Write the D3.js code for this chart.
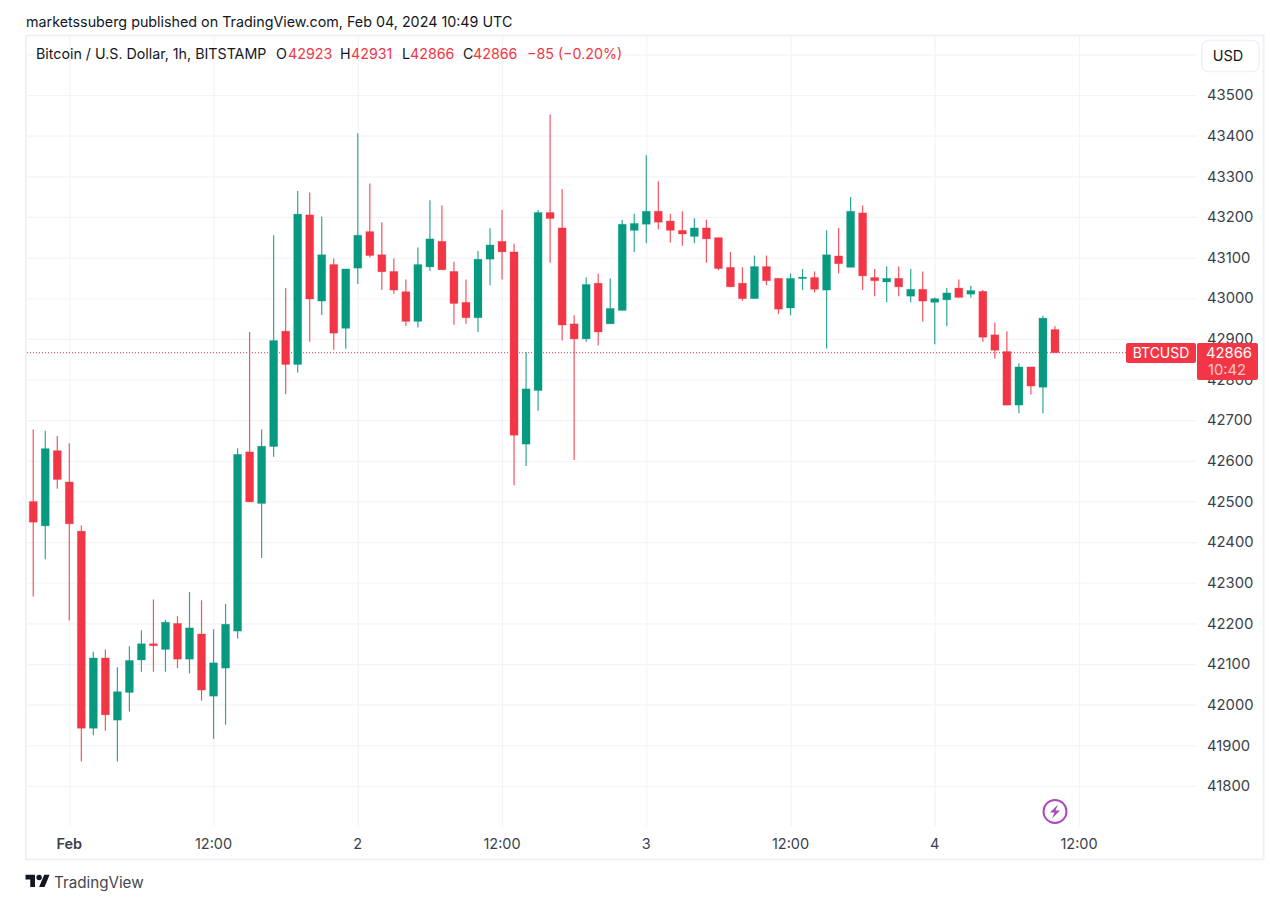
<!DOCTYPE html>
<html>
<head>
<meta charset="utf-8">
<script src="https://cdn.jsdelivr.net/npm/d3@7"></script>
<style>
  html, body { margin: 0; padding: 0; background: #fff; }
  svg { display: block; }
  text { font-family: Inter, "Liberation Sans", sans-serif; }
  .tick text { font-family: Inter, "Liberation Sans", sans-serif; }
</style>
</head>
<body>
<svg id="svg" width="1270" height="898"></svg>
<script>
// hourly candles, first one is Jan 31 21:00 UTC
const firstHour = Date.UTC(2024, 0, 31, 21);

const opens = [42500,42440,42625,42548,42427,41942,42115,41962,42030,42110,42150,42136,42200,42112,42174,42021,42090,42181,42622,42495,42635,42919,42837,43205,42993,43083,42926,43074,43164,43107,43066,43016,42943,43077,43140,43066,42990,42952,43096,43140,43114,42641,42773,43211,43173,42937,42900,43037,42937,42970,43167,43182,43214,43190,43167,43152,43173,43149,43076,43037,42999,43078,43049,42976,43049,43051,43020,43104,43076,43210,43051,43040,43049,43005,43022,42990,42996,43025,43010,43017,42910,42869,42737,42831,42781,42923];
const highs = [42677,42674,42661,42643,42441,42130,42136,42092,42144,42183,42259,42209,42218,42277,42257,42186,42248,42631,42917,42677,43155,43025,43264,43260,43201,43098,43072,43406,43282,43187,43098,43046,43125,43241,43228,43090,43046,43116,43172,43217,43134,42868,43217,43452,43269,42958,43051,43060,43049,43193,43208,43352,43288,43208,43214,43197,43193,43150,43114,43076,43105,43105,43049,43061,43072,43066,43167,43173,43249,43228,43072,43078,43078,43072,43066,43002,43025,43046,43031,43020,42940,42919,42840,42831,42957,42931];
const lows = [42266,42358,42531,42207,41860,41925,41936,41860,41983,42081,42081,42081,42090,42077,42010,41916,41951,42163,42499,42361,42610,42764,42817,42893,42959,42873,42876,43035,43100,43020,43011,42932,42928,43067,43070,42935,42937,42917,43032,43046,42540,42587,42723,43087,42896,42602,42893,42884,42937,42970,43114,43135,43170,43137,43129,43135,43087,43069,43028,42994,42999,43032,42961,42958,43020,43014,42876,43061,43076,43020,43005,42990,43005,42990,42943,42887,42931,43002,43002,42893,42852,42737,42717,42763,42717,42866];
const closes = [42449,42630,42554,42445,41942,42115,41975,42032,42109,42150,42145,42203,42112,42189,42036,42103,42198,42616,42499,42636,42896,42837,43207,42998,43107,42914,43072,43155,43105,43065,43020,42943,43083,43146,43070,42987,42952,43096,43131,43114,42663,42777,43211,43196,42934,42900,43034,42917,42975,43182,43184,43214,43187,43167,43158,43173,43146,43073,43028,42999,43078,43043,42973,43049,43052,43022,43107,43085,43214,43055,43043,43049,43028,43022,42993,42999,43013,43002,43019,42904,42872,42737,42831,42784,42951,42866];

const priceTicks = [43500,43400,43300,43200,43100,43000,42900,42800,42700,42600,42500,42400,42300,42200,42100,42000,41900,41800];
const gridPrices = [43600].concat(priceTicks);

const timeTicks = [
  Date.UTC(2024, 1, 1, 0), Date.UTC(2024, 1, 1, 12),
  Date.UTC(2024, 1, 2, 0), Date.UTC(2024, 1, 2, 12),
  Date.UTC(2024, 1, 3, 0), Date.UTC(2024, 1, 3, 12),
  Date.UTC(2024, 1, 4, 0), Date.UTC(2024, 1, 4, 12)
];
const timeLabels = ["Feb", "12:00", "2", "12:00", "3", "12:00", "4", "12:00"];

const lastPrice = 42866;
const up = "#089981", down = "#f23645";
const gridColor = "#f3f4f8", borderColor = "#eff1f7", textColor = "#131722", axisColor = "#3c3f4a";

const svg = d3.select("svg");

// plot area
const plotLeft = 27, plotRight = 1197, plotTop = 36, plotBottom = 826;

const xScale = d3.scaleUtc()
  .domain([timeTicks[0], timeTicks[7]])
  .range([69.3, 1079]);

const yScale = d3.scaleLinear()
  .domain([41800, 43500])
  .range([786, 95]);

// frame
svg.append("rect")
  .attr("x", 26).attr("y", 35.5)
  .attr("width", 1237.5).attr("height", 824)
  .attr("fill", "#fff")
  .attr("stroke", borderColor)
  .attr("stroke-width", 2);

// horizontal grid
svg.append("g")
  .attr("transform", `translate(${plotLeft},0)`)
  .call(d3.axisRight(yScale).tickValues(gridPrices).tickSize(plotRight - plotLeft).tickFormat(""))
  .call(g => g.select(".domain").remove())
  .call(g => g.selectAll("line").attr("stroke", gridColor).attr("stroke-width", 1.2));

// vertical grid
svg.append("g")
  .attr("transform", `translate(0,${plotBottom})`)
  .call(d3.axisBottom(xScale).tickValues(timeTicks).tickSize(plotTop - plotBottom).tickFormat(""))
  .call(g => g.select(".domain").remove())
  .call(g => g.selectAll("line").attr("stroke", gridColor).attr("stroke-width", 1.2));

// price axis
svg.append("g")
  .attr("transform", "translate(1205,0)")
  .call(d3.axisRight(yScale).tickValues(priceTicks).tickSize(0).tickPadding(2).tickFormat(d3.format("d")))
  .call(g => g.select(".domain").remove())
  .call(g => g.selectAll("text").attr("fill", axisColor).attr("font-size", 14.8));

// time axis
svg.append("g")
  .attr("transform", "translate(-0.5,834)")
  .call(d3.axisBottom(xScale).tickValues(timeTicks).tickSize(0).tickPadding(5)
    .tickFormat((d, i) => timeLabels[i]))
  .call(g => g.select(".domain").remove())
  .call(g => g.selectAll("text")
    .attr("fill", axisColor)
    .attr("font-size", 14.5)
    .attr("font-weight", (d, i) => i === 0 ? 600 : 400));

// last price line
svg.append("line")
  .attr("x1", plotLeft).attr("x2", 1126)
  .attr("y1", yScale(lastPrice)).attr("y2", yScale(lastPrice))
  .attr("stroke", down)
  .attr("stroke-width", 1)
  .attr("stroke-dasharray", "1 2");

// candles
const candles = svg.append("g").selectAll("g")
  .data(opens)
  .enter()
  .append("g");

candles.append("line")
  .attr("x1", (d, i) => xScale(firstHour + i * 3600000))
  .attr("x2", (d, i) => xScale(firstHour + i * 3600000))
  .attr("y1", (d, i) => yScale(highs[i]))
  .attr("y2", (d, i) => yScale(lows[i]))
  .attr("stroke", (d, i) => closes[i] >= d ? up : down)
  .attr("stroke-opacity", 0.85)
  .attr("stroke-width", 1.2);

candles.append("rect")
  .attr("x", (d, i) => xScale(firstHour + i * 3600000) - 4)
  .attr("y", (d, i) => yScale(Math.max(d, closes[i])))
  .attr("width", 8)
  .attr("height", (d, i) => Math.max(1.5, Math.abs(yScale(d) - yScale(closes[i]))))
  .attr("fill", (d, i) => closes[i] >= d ? up : down)
  .attr("stroke", (d, i) => closes[i] >= d ? up : down)
  .attr("stroke-opacity", 0.3)
  .attr("stroke-width", 0.8);

// last price tags
svg.append("rect")
  .attr("x", 1126).attr("y", 343)
  .attr("width", 70).attr("height", 20)
  .attr("rx", 2)
  .attr("fill", down);
svg.append("text")
  .attr("x", 1161).attr("y", 358)
  .attr("text-anchor", "middle")
  .attr("fill", "#fff")
  .attr("font-size", 14)
  .text("BTCUSD");
svg.append("rect")
  .attr("x", 1197).attr("y", 343)
  .attr("width", 61).attr("height", 37)
  .attr("rx", 2)
  .attr("fill", down);
svg.append("text")
  .attr("x", 1229).attr("y", 358)
  .attr("text-anchor", "middle")
  .attr("fill", "#fff")
  .attr("font-size", 14.8)
  .text("42866");
svg.append("text")
  .attr("x", 1227).attr("y", 375)
  .attr("text-anchor", "middle")
  .attr("fill", "#fbc4ca")
  .attr("font-size", 14.8)
  .text("10:42");

// currency button
svg.append("rect")
  .attr("x", 1202).attr("y", 40.5)
  .attr("width", 57).attr("height", 31)
  .attr("rx", 6)
  .attr("fill", "#fff")
  .attr("stroke", borderColor)
  .attr("stroke-width", 1.5);
svg.append("text")
  .attr("x", 1228).attr("y", 60.5)
  .attr("text-anchor", "middle")
  .attr("fill", textColor)
  .attr("font-size", 14.5)
  .text("USD");

// header
svg.append("text")
  .attr("x", 26).attr("y", 26.5)
  .attr("fill", textColor)
  .attr("font-size", 14.3)
  .text("marketssuberg published on TradingView.com, Feb 04, 2024 10:49 UTC");

// legend row: [x, text, colour]
const legendX = [36, 276, 288, 340, 351, 402, 410, 463, 473, 527];
const legendText = ["Bitcoin / U.S. Dollar, 1h, BITSTAMP", "O", "42923", "H", "42931", "L", "42866", "C", "42866", "\u221285 (\u22120.20%)"];
const legendRed = [false, false, true, false, true, false, true, false, true, true];
svg.append("g").selectAll("text")
  .data(legendText)
  .enter()
  .append("text")
  .attr("x", (d, i) => legendX[i])
  .attr("y", 59)
  .attr("fill", (d, i) => legendRed[i] ? down : textColor)
  .attr("font-size", 14.25)
  .text(d => d);

// lightning icon
const icon = svg.append("g").attr("transform", "translate(1055,811.5)");
icon.append("circle")
  .attr("r", 11.5)
  .attr("fill", "#fff")
  .attr("stroke", "#ab47bc")
  .attr("stroke-width", 2);
icon.append("path")
  .attr("d", "M3 -7 L-5 1 L-0.5 1 L-3 7 L5 -1 L0.5 -1 Z")
  .attr("fill", "#ab47bc");

// tradingview logo
const logo = svg.append("g")
  .attr("transform", "translate(25.5,872) scale(0.68)")
  .attr("fill", "#131722");
logo.append("path").attr("d", "M14 22H7V11H0V4h14v18zM28 22h-8l7.5-18h8L28 22z");
logo.append("circle").attr("cx", 20).attr("cy", 8).attr("r", 4);

svg.append("text")
  .attr("x", 54).attr("y", 887.5)
  .attr("fill", "#434651")
  .attr("font-size", 15.2)
  .text("TradingView");
</script>
</body>
</html>
